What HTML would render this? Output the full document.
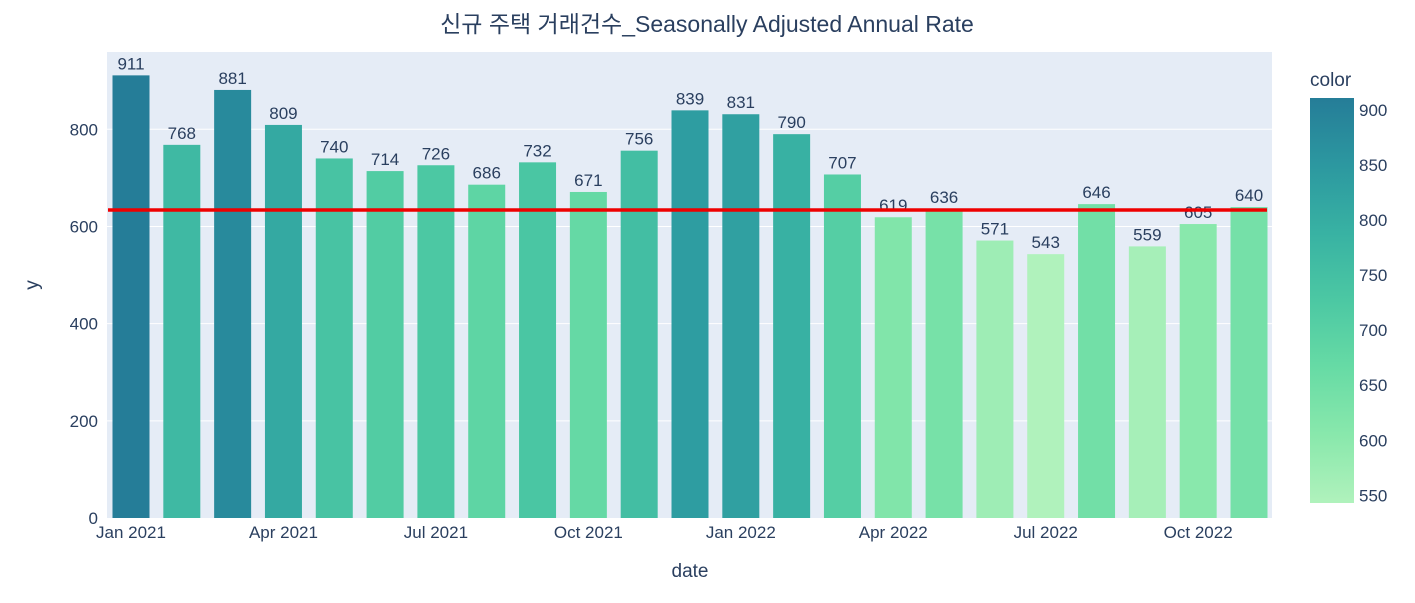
<!DOCTYPE html>
<html><head><meta charset="utf-8"><style>
body{margin:0;background:#fff;font-family:"Liberation Sans","Noto Sans CJK KR",sans-serif;}
svg text{font-family:"Liberation Sans","Noto Sans CJK KR",sans-serif;fill:#2a3f5f;}
</style></head><body>
<svg id="chart" width="1415" height="598" xmlns="http://www.w3.org/2000/svg">
<defs><linearGradient id="cb" x1="0" y1="1" x2="0" y2="0">
<stop offset="0" stop-color="rgb(176,242,188)"/><stop offset="0.1667" stop-color="rgb(137,232,172)"/><stop offset="0.3333" stop-color="rgb(103,219,165)"/><stop offset="0.5" stop-color="rgb(76,200,163)"/><stop offset="0.6667" stop-color="rgb(56,178,163)"/><stop offset="0.8333" stop-color="rgb(44,152,160)"/><stop offset="1" stop-color="rgb(37,125,152)"/>
</linearGradient></defs>
<text x="707" y="32" text-anchor="middle" font-size="23">신규 주택 거래건수_Seasonally Adjusted Annual Rate</text>
<rect x="107" y="52" width="1165" height="466" fill="#e5ecf6"/>
<g id="grid"></g><g id="bars"></g><g id="labels"></g><g id="xticks"></g><g id="yticks"></g>
<text x="690" y="577" text-anchor="middle" font-size="19">date</text>
<text x="38" y="285" text-anchor="middle" font-size="19" transform="rotate(-90 38 285)">y</text>
<line id="refline" x1="108" x2="1267" stroke="#ee0000" stroke-width="3.5"/>
<text x="1310" y="86" font-size="19">color</text>
<rect x="1310" y="98" width="44" height="405" fill="url(#cb)"/>
<g id="cbticks"></g>
</svg>
<script>
const categories=["2021-01","2021-02","2021-03","2021-04","2021-05","2021-06","2021-07","2021-08","2021-09","2021-10","2021-11","2021-12","2022-01","2022-02","2022-03","2022-04","2022-05","2022-06","2022-07","2022-08","2022-09","2022-10","2022-11"];
const values=[911,768,881,809,740,714,726,686,732,671,756,839,831,790,707,619,636,571,543,646,559,605,640];
const refValue=634;
const yTicks=[0,200,400,600,800];
const xTickLabels=[[0,"Jan 2021"],[3,"Apr 2021"],[6,"Jul 2021"],[9,"Oct 2021"],[12,"Jan 2022"],[15,"Apr 2022"],[18,"Jul 2022"],[21,"Oct 2022"]];
const cbTicks=[550,600,650,700,750,800,850,900];
const NS="http://www.w3.org/2000/svg";
const y=v=>518-v*(518-129.3)/800;
const x=i=>131+i*(1249-131)/(categories.length-1);
const cmin=Math.min(...values),cmax=Math.max(...values);
const cbY=v=>503-(v-cmin)/(cmax-cmin)*405;
const stops=[[176,242,188],[137,232,172],[103,219,165],[76,200,163],[56,178,163],[44,152,160],[37,125,152]];
function col(v){let t=(v-cmin)/(cmax-cmin)*6;let i=Math.min(5,Math.floor(t));let f=t-i;const a=stops[i],b=stops[i+1];return `rgb(${a.map((c,k)=>Math.round(c+(b[k]-c)*f)).join(",")})`;}
function mk(tag,attrs,parent,text){const e=document.createElementNS(NS,tag);for(const k in attrs)e.setAttribute(k,attrs[k]);if(text!==undefined)e.textContent=text;document.getElementById(parent).appendChild(e);return e;}
yTicks.forEach(t=>{
 if(t>0){const g=mk("line",{x1:107,x2:1272,y1:y(t),y2:y(t),stroke:"#fff","stroke-width":1},"grid");
 
 }
 const l=mk("text",{x:98,y:y(t)+6,"text-anchor":"end","font-size":17},"yticks",String(t));
 
 
});
values.forEach((v,i)=>{
 const r=mk("rect",{x:x(i)-18.5,y:y(v),width:37,height:518-y(v),fill:col(v)},"bars");
 
 
 const t=mk("text",{x:x(i),y:y(v)-6,"text-anchor":"middle","font-size":17},"labels",String(v));
 
 
});
xTickLabels.forEach(([i,s])=>{
 const t=mk("text",{x:x(i),y:538,"text-anchor":"middle","font-size":17},"xticks",s);
 
 
});
cbTicks.forEach(v=>{
 const t=mk("text",{x:1359,y:cbY(v)+6,"font-size":17},"cbticks",String(v));
 
 
});
const rl=document.getElementById("refline");rl.setAttribute("y1",y(refValue));rl.setAttribute("y2",y(refValue));
</script>
</body></html>
